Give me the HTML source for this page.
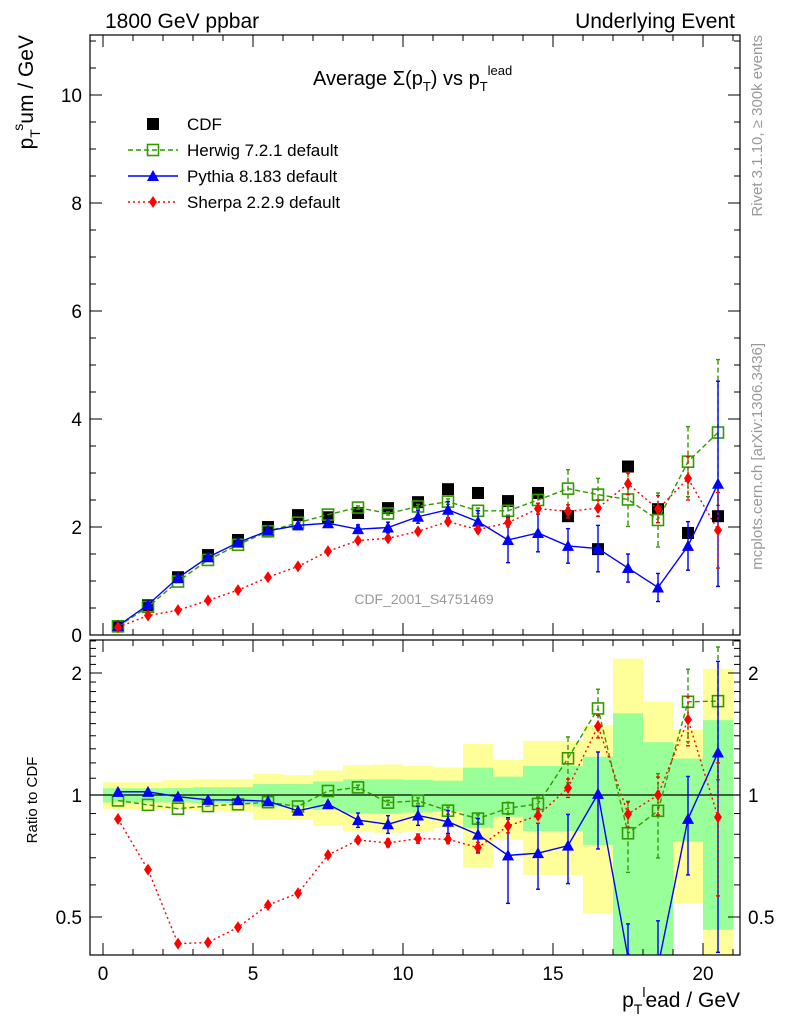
<!DOCTYPE html>
<html><head><meta charset="utf-8"><style>
body{margin:0;background:#fff;font-family:"Liberation Sans",sans-serif}
svg{display:block}
text{font-family:"Liberation Sans",sans-serif}
</style></head><body>
<svg id="c" width="786" height="1024" xmlns="http://www.w3.org/2000/svg"></svg>
<script>
const bins=[0.5,1.5,2.5,3.5,4.5,5.5,6.5,7.5,8.5,9.5,10.5,11.5,12.5,13.5,14.5,15.5,16.5,17.5,18.5,19.5,20.5];
const cdf=[0.165,0.55,1.07,1.48,1.76,2.0,2.22,2.18,2.26,2.35,2.46,2.70,2.63,2.48,2.63,2.2,1.59,3.12,2.33,1.89,2.2];
const herwig=[0.16,0.52,0.99,1.39,1.67,1.92,2.08,2.23,2.36,2.25,2.38,2.47,2.3,2.3,2.5,2.71,2.6,2.51,2.13,3.21,3.75];
const herwigErr=[0,0,0,0,0,0,0,0.02,0.03,0.03,0.04,0.05,0.05,0.08,0.1,0.35,0.3,0.5,0.5,0.65,1.35];
const pythia=[0.168,0.56,1.06,1.44,1.71,1.93,2.03,2.07,1.96,1.99,2.19,2.32,2.1,1.76,1.89,1.65,1.6,1.24,0.88,1.65,2.8];
const pythiaErr=[0,0,0,0,0,0,0,0.03,0.08,0.1,0.12,0.15,0.2,0.42,0.35,0.32,0.43,0.26,0.26,0.45,1.9];
const sherpa=[0.144,0.36,0.46,0.64,0.83,1.07,1.27,1.55,1.75,1.79,1.92,2.1,1.95,2.08,2.34,2.29,2.35,2.8,2.33,2.9,1.94];
const sherpaErr=[0,0,0,0,0,0,0,0,0.03,0.04,0.05,0.05,0.06,0.08,0.1,0.12,0.15,0.2,0.25,0.4,0.7];
const bandYUp=[1.075,1.075,1.089,1.093,1.093,1.127,1.12,1.15,1.186,1.19,1.18,1.17,1.336,1.22,1.36,1.36,1.488,2.17,1.70,1.45,2.05];
const bandYDn=[0.922,0.922,0.918,0.915,0.91,0.868,0.868,0.84,0.812,0.807,0.812,0.828,0.662,0.774,0.635,0.635,0.51,0.3,0.65,0.54,0.3];
const bandGUp=[1.039,1.039,1.04,1.045,1.045,1.064,1.064,1.08,1.093,1.093,1.09,1.085,1.168,1.11,1.18,1.18,1.243,1.59,1.35,1.23,1.53];
const bandGDn=[0.959,0.959,0.958,0.955,0.955,0.936,0.936,0.918,0.90,0.90,0.905,0.91,0.83,0.884,0.815,0.815,0.753,0.3,0.3,0.767,0.465];
const yTicks=[0,2,4,6,8,10];
const rTicks=[0.5,1,2];
const xTicks=[0,5,10,15,20];

const NS="http://www.w3.org/2000/svg";
const svg=document.getElementById('c');
function el(tag,attrs,parent){const e=document.createElementNS(NS,tag);for(const k in attrs)e.setAttribute(k,attrs[k]);(parent||svg).appendChild(e);return e;}
const L=90,R=740,MT=35,MB=635,RT=640,RB=955;
const X=v=>103+30*v;
const Y=v=>635-54*v;
const RY=v=>795-122*Math.log2(v);

const defs=el('defs',{});
const cp1=el('clipPath',{id:'cm'},defs);el('rect',{x:L,y:MT,width:R-L,height:MB-MT},cp1);
const cp2=el('clipPath',{id:'cr'},defs);el('rect',{x:L,y:RT,width:R-L,height:RB-RT},cp2);

const gb=el('g',{'clip-path':'url(#cr)'});


bins.forEach((b,i)=>{
  const r=el('rect',{x:X(b-0.5),y:RY(bandYUp[i]),width:30,height:RY(bandYDn[i])-RY(bandYUp[i]),fill:'#ffff99'},gb);
  
  
});
bins.forEach((b,i)=>{
  const r=el('rect',{x:X(b-0.5),y:RY(bandGUp[i]),width:30,height:RY(bandGDn[i])-RY(bandGUp[i]),fill:'#99ff99'},gb);
  
  
});
el('line',{x1:L,x2:R,y1:RY(1),y2:RY(1),stroke:'#000','stroke-width':1.2});

const f1=el('rect',{x:L,y:MT,width:R-L,height:MB-MT,fill:'none',stroke:'#000','stroke-width':1.2});

const f2=el('rect',{x:L,y:RT,width:R-L,height:RB-RT,fill:'none',stroke:'#000','stroke-width':1.2});


const tk={stroke:'#000','stroke-width':1};
for(let v=0;v<=21;v++){
  const len=v%5==0?12:6,x=X(v);
  [[MB,-1],[MT,1],[RB,-1],[RT,1]].forEach(([y,d])=>el('line',Object.assign({x1:x,x2:x,y1:y,y2:y+d*len},tk)));
}
for(let v=0;v<=11;v+=0.5){
  const len=v%2==0?12:6,y=Y(v);
  el('line',Object.assign({x1:L,x2:L+len,y1:y,y2:y},tk));el('line',Object.assign({x1:R,x2:R-len,y1:y,y2:y},tk));
}
[0.5,1,2].forEach(v=>{const y=RY(v);el('line',Object.assign({x1:L,x2:L+12,y1:y,y2:y},tk));el('line',Object.assign({x1:R,x2:R-12,y1:y,y2:y},tk));});
[0.5,0.6,0.7,0.8,0.9,1.1,1.2,1.3,1.4,1.5,1.6,1.7,1.8,1.9,2.1,2.2,2.3,2.4].forEach(v=>{const y=RY(v);if(y<RT||y>RB)return;el('line',Object.assign({x1:L,x2:L+6,y1:y,y2:y},tk));el('line',Object.assign({x1:R,x2:R-6,y1:y,y2:y},tk));});

yTicks.forEach(v=>{const t=el('text',{x:82,y:Y(v)+7,'text-anchor':'end','font-size':19});t.textContent=v;});
rTicks.forEach(v=>{
  const t=el('text',{x:82,y:RY(v)+7,'text-anchor':'end','font-size':19});t.textContent=v;
  const t2=el('text',{x:748,y:RY(v)+7,'text-anchor':'start','font-size':19});t2.textContent=v;
});
xTicks.forEach(v=>{const t=el('text',{x:X(v),y:980,'text-anchor':'middle','font-size':19});t.textContent=v;});

function marker(type,x,y,g){
  if(type=='sq') el('rect',{x:x-6,y:y-6,width:12,height:12,fill:'#000'},g);
  if(type=='osq') el('rect',{x:x-5.5,y:y-5.5,width:11,height:11,fill:'none',stroke:'#339900','stroke-width':1.6},g);
  if(type=='tri') el('polygon',{points:`${x},${y-6} ${x-6},${y+5} ${x+6},${y+5}`,fill:'#0000ff'},g);
  if(type=='dia') el('polygon',{points:`${x},${y-6} ${x-4},${y} ${x},${y+6} ${x+4},${y}`,fill:'#ff0000'},g);
}
const series=[
  {name:'herwig',vals:herwig,err:herwigErr,col:'#339900',dash:'5,3',m:'osq'},
  {name:'pythia',vals:pythia,err:pythiaErr,col:'#0000ff',dash:'',m:'tri'},
  {name:'sherpa',vals:sherpa,err:sherpaErr,col:'#ff0000',dash:'2,3',m:'dia'}
];
function drawSeries(s,ratio,clip){
  const g=el('g',{'clip-path':`url(#${clip})`});
  
  
  const fy=ratio?(i,v)=>RY(v/cdf[i]):(i,v)=>Y(v);
  const pts=bins.map((b,i)=>`${X(b)},${fy(i,s.vals[i])}`).join(' ');
  el('polyline',{points:pts,fill:'none',stroke:s.col,'stroke-width':1.4,'stroke-dasharray':s.dash},g);
  bins.forEach((b,i)=>{
    if(s.err[i]>0.02){
      const lo=Math.max(s.vals[i]-s.err[i],0.01),hi=s.vals[i]+s.err[i];
      const y1=fy(i,hi),y2=fy(i,lo);
      el('line',{x1:X(b),x2:X(b),y1:y1,y2:y2,stroke:s.col,'stroke-width':1.4,'stroke-dasharray':s.dash},g);
      el('line',{x1:X(b)-2,x2:X(b)+2,y1:y1,y2:y1,stroke:s.col,'stroke-width':1.4},g);
      el('line',{x1:X(b)-2,x2:X(b)+2,y1:y2,y2:y2,stroke:s.col,'stroke-width':1.4},g);
    }
    marker(s.m,X(b),fy(i,s.vals[i]),g);
  });
}
const gc=el('g',{'clip-path':'url(#cm)'});


series.forEach(s=>drawSeries(s,false,'cm'));
bins.forEach((b,i)=>marker('sq',X(b),Y(cdf[i]),gc));
series.forEach(s=>drawSeries(s,true,'cr'));

function txt(x,y,s,attrs,name){const t=el('text',Object.assign({x:x,y:y},attrs));t.innerHTML=s;return t;}
txt(105,28,'1800 GeV ppbar',{'font-size':21},'header-left');
txt(735,28,'Underlying Event',{'font-size':21,'text-anchor':'end'},'header-right');
txt(313,85,'Average Σ(p<tspan font-size="13" dy="6">T</tspan><tspan dy="-6">) vs p</tspan><tspan font-size="13" dy="6">T</tspan><tspan font-size="13" dy="-16">lead</tspan>',{'font-size':20},'plot-title');
txt(424,604,'CDF_2001_S4751469',{'font-size':14,fill:'#999','text-anchor':'middle'},'analysis-label');
const lg=el('g',{});
marker('sq',153,124,lg);txt(187,130,'CDF',{'font-size':17},'legend-cdf');
el('line',{x1:128,x2:178,y1:150,y2:150,stroke:'#339900','stroke-width':1.4,'stroke-dasharray':'5,3'},lg);marker('osq',153,150,lg);txt(187,156,'Herwig 7.2.1 default',{'font-size':17},'legend-herwig');
el('line',{x1:128,x2:178,y1:176,y2:176,stroke:'#0000ff','stroke-width':1.4},lg);marker('tri',153,176,lg);txt(187,182,'Pythia 8.183 default',{'font-size':17},'legend-pythia');
el('line',{x1:128,x2:178,y1:202,y2:202,stroke:'#ff0000','stroke-width':1.4,'stroke-dasharray':'2,3'},lg);marker('dia',153,202,lg);txt(187,208,'Sherpa 2.2.9 default',{'font-size':17},'legend-sherpa');
txt(0,0,'p<tspan font-size="14" dy="7">T</tspan><tspan font-size="14" dy="-17">s</tspan><tspan dy="10">um / GeV</tspan>',{'font-size':21,'text-anchor':'end',transform:'translate(33,35) rotate(-90)'},'y-axis-title');
txt(0,0,'Ratio to CDF',{'font-size':15,'text-anchor':'middle',transform:'translate(37,800) rotate(-90)'},'ratio-axis-title');
txt(740,1007,'p<tspan font-size="14" dy="7">T</tspan><tspan font-size="14" dy="-17">l</tspan><tspan dy="10">ead / GeV</tspan>',{'font-size':21,'text-anchor':'end'},'x-axis-title');
txt(0,0,'Rivet 3.1.10, ≥ 300k events',{'font-size':15,fill:'#999','text-anchor':'end',transform:'translate(762,35) rotate(-90)'},'rivet-version-label');
txt(0,0,'mcplots.cern.ch [arXiv:1306.3436]',{'font-size':15,fill:'#999','text-anchor':'end',transform:'translate(762,343) rotate(-90)'},'mcplots-label');
</script>
</body></html>
